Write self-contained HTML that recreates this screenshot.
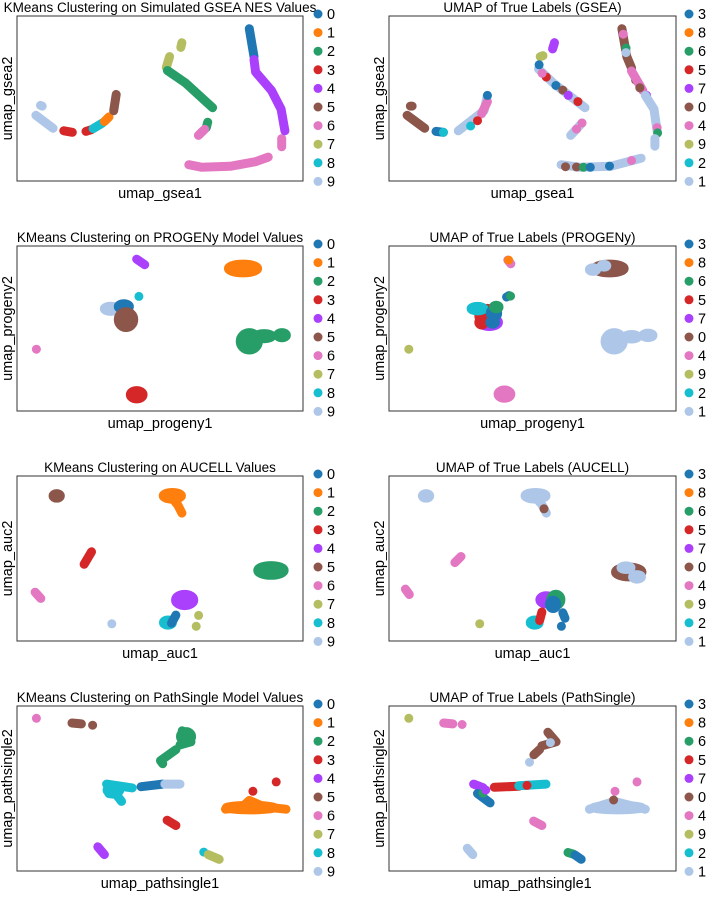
<!DOCTYPE html>
<html><head><meta charset="utf-8">
<style>
html,body{margin:0;padding:0;background:#fff;}
svg text{font-family:"Liberation Sans",Arial,sans-serif;fill:#000;}
</style></head>
<body>
<svg id="chart" width="708" height="892" viewBox="0 0 708 892" xmlns="http://www.w3.org/2000/svg"></svg>
<script>
// Palette (position-based, scanpy default)
const palette = ["#1f77b4","#ff7f0e","#279e68","#d62728","#aa40fc","#8c564b","#e377c2","#b5bd61","#17becf","#aec7e8"];
const leftLegend = ["0","1","2","3","4","5","6","7","8","9"];
const rightLegend = ["3","8","6","5","7","0","4","9","2","1"];
const titles = ["KMeans Clustering on Simulated GSEA NES Values","UMAP of True Labels (GSEA)",
  "KMeans Clustering on PROGENy Model Values","UMAP of True Labels (PROGENy)",
  "KMeans Clustering on AUCELL Values","UMAP of True Labels (AUCELL)",
  "KMeans Clustering on PathSingle Model Values","UMAP of True Labels (PathSingle)"];
const xLabels = ["umap_gsea1","umap_gsea1","umap_progeny1","umap_progeny1","umap_auc1","umap_auc1","umap_pathsingle1","umap_pathsingle1"];
const yLabels = ["umap_gsea2","umap_gsea2","umap_progeny2","umap_progeny2","umap_auc2","umap_auc2","umap_pathsingle2","umap_pathsingle2"];

// Cluster paths: [colorIndex, [[x,y],...]] in UMAP units (0-100)
const gseaKm = [
 [9,[[6.4,45.5],[7,45]]],[9,[[4.7,39],[11,30.5]]],
 [3,[[14.9,28.9],[18,27.9]]],[3,[[23,28.5],[25,29.7]]],
 [8,[[25.6,30.3],[29,34]]],[1,[[29.7,35],[31.4,38]]],
 [5,[[33.1,42],[34,52.7]]],
 [7,[[58,86.5],[57.6,83.4]]],[7,[[53.5,77.4],[52.3,70.3]]],
 [2,[[52.7,68.3],[59.3,60.2],[69.2,44]]],[2,[[67.4,34.5],[66.9,30.9]]],
 [6,[[64,25.9],[66.3,29.9]]],[6,[[60.5,6.7],[65.1,5.1],[75.6,5.7],[84.9,8.7],[89.5,11.7]]],[6,[[94.4,23.8],[94.4,18.4]]],
 [0,[[82.6,95.6],[84.3,77.4]]],
 [4,[[84.3,75.4],[84.9,67.3],[90.7,55.2],[94.2,43],[95.6,28.9]]]
];
const gseaTrue = [
 [5,[[5.6,45],[6.2,45]]],[5,[[4.4,39],[10.8,30.5]]],[0,[[14.9,28.5],[17.6,27.9]]],[8,[[17.6,27.9]]],
 [9,[[23,28.9],[32.4,42],[33.6,52]]],[6,[[31.5,40],[33.6,48]]],[0,[[33.6,52]]],[8,[[27.5,32]]],[3,[[30,35.5]]],
 [9,[[52.2,69.3],[57.5,60.2],[69.1,44]]],[7,[[52.8,77.4],[53.8,78]]],[4,[[58,86.5],[57.3,82.4]]],
 [0,[[52.4,72]]],[3,[[55,64]]],[0,[[58.5,58.5]]],[5,[[61,55.5]]],[4,[[63,52]]],[3,[[66.5,48]]],[6,[[53.5,66.5]]],
 [9,[[63.9,25.9],[68,34]]],[6,[[66,30]]],[6,[[68,34]]],
 [5,[[82.5,95.6],[84.3,77.4],[86,70]]],[6,[[83,92]]],[2,[[84,83]]],[9,[[84,80]]],[5,[[87.5,62]]],
 [6,[[86,68],[90.1,55.2]]],[5,[[89,57]]],[4,[[91.5,52]]],[9,[[91,52],[94.2,43],[95.3,28.9]]],[6,[[95.3,31]]],[2,[[95.5,27.5]]],
 [9,[[94.5,23.8],[94.5,18.8]]],
 [9,[[60.4,6.7],[66.8,5.1],[78.4,5.7],[89.5,11]]],[5,[[62,5.4]]],[5,[[66,5.2]]],[2,[[68.5,5]]],[0,[[71,5]]],[0,[[78,5.8]]],[6,[[86,9.5]]]
];
const progKm = [
 [4,[[41.5,95.3],[44.4,91.7]]],[8,[[42.3,71]]],[6,[[4.9,36.5]]]
];
const progKmBlobs = [
 [1,80.3,89.2,5.5,3.2],[9,32,62.9,2.5,2],[0,36.8,64.3,2.2,2.2],[5,37.6,55.8,3,5.5],
 [2,82.6,41.6,3.5,6],[2,88,45,3,2],[2,94.5,45.6,1.8,2],[3,41.5,6.7,2.5,3]
];
const progTrue = [
 [6,[[41,94.7],[42.1,92.3]]],[1,[[41.3,94.7]]],[0,[[40.6,70.6],[41.5,71.5]]],[2,[[42,71.2]]],[7,[[5,36.5]]]
];
const progTrueBlobs = [
 [5,78,89.2,5.5,3.2],[9,72,88.5,1.5,1.5],[9,76,91,1.2,1.2],
 [4,34.3,54,3.5,3],[3,33.5,58.5,3.2,5],[8,30,63,2.5,1.8],[0,36,60,1.5,3],[2,36.8,64,1.2,1.5],[3,31.5,54,1.2,2],[0,35.5,54,1.2,1.5],
 [9,79.7,41.6,3.5,6],[9,86,44.6,2.5,1.8],[9,92,45.5,2,1.8],[6,39.8,7.1,2.5,3]
];
const aucKm = [
 [1,[[54.2,90],[56.5,85],[58,79.7]]],[3,[[25,54.4],[22.3,46.2]]],[6,[[4.4,28],[6.5,23.9]]],
 [0,[[55.8,13],[54.2,7.7]]],[7,[[64.1,12.8]]],[7,[[63.2,5.7]]],[9,[[32.4,7.3]]],[5,[[12.3,90.9]]]
];
const aucKmBlobs = [
 [1,54.5,91,3.5,2.5],[5,12.3,90.9,1.5,1.8],[2,90.5,42.2,5,3.5],[4,59,22.9,3.5,4],[8,52.9,8.1,1.8,2]
];
const aucTrue = [
 [9,[[51.1,90],[53.5,85],[55,79.7]]],[5,[[54.2,82.5]]],[6,[[24,51.3],[21.8,47.3]]],[6,[[3.8,30],[5.2,26.5]]],
 [3,[[53.4,15],[52.6,9.5]]],[0,[[61,14.5],[61.8,11]]],[0,[[60.5,5.7]]],[7,[[30.8,7.3]]]
];
const aucTrueBlobs = [
 [9,11.3,90.9,1.5,1.8],[9,51.1,91,4,2.5],[5,85,41.2,5,3.5],[9,84,44,2,1.5],[9,88,38,1.8,1.8],
 [4,55,23,2.5,3],[2,58.5,23,2,4],[0,57.5,20,1.5,3],[8,50.8,8.1,1.8,2]
];
const psKm = [
 [6,[[4.9,95.9]]],[5,[[17.9,92.8],[21.3,92.2]]],[5,[[25.4,91.4]]],
 [2,[[58.1,87.7],[61.3,80.5],[57.3,78.5]]],[2,[[55.8,75.4],[50.2,68.2],[51,66.2]]],
 [8,[[30.5,52.9],[39.9,50.4]]],[8,[[36,41.6],[34,46],[31.3,46.7]]],
 [0,[[43.1,51.2],[51,52.9]]],[9,[[51.8,52.9],[57.3,52.9]]],
 [3,[[92.4,54.3]]],[3,[[83.9,48.2]]],[3,[[52.6,29.3],[55.8,25.8]]],
 [1,[[73.9,36.5],[80,38],[82.6,42.2],[88,38],[96,36.5]]],
 [4,[[27.3,11.9],[29.7,6.8]]],[8,[[66,8.4]]],[7,[[67.6,6.8],[71.6,3.7]]]
];
const psKmBlobs = [[2,59.5,84,2.2,3.5],[8,33,49,2.5,2.5],[1,83,37.5,9,1.8]];
const psTrue = [
 [7,[[5,95.9]]],[6,[[17.7,92.8],[21,92.2]]],[6,[[24.4,91.8]]],
 [5,[[55.6,86.7],[58.6,80.5],[53.4,77.9]]],[9,[[56.5,80]]],[5,[[52.6,75.4],[50.5,72]]],[9,[[48.9,67.2]]],
 [4,[[28.6,52.9],[32,50.5]]],[3,[[36.1,50.8],[45,51.5]]],[8,[[45,51.8],[54.9,52.9]]],[3,[[48,52]]],
 [0,[[30,46.7],[34.6,40.6]]],[2,[[32,47]]],[4,[[33,49]]],
 [6,[[88,54.3]]],[6,[[80,48.2]]],[6,[[50.4,28.7],[53.4,25.8]]],
 [9,[[70.7,36.5],[79.7,41.6],[91,36.5]]],[5,[[79.5,42.5]]],
 [9,[[26.3,10.9],[28.3,6.8]]],[2,[[62.9,8.2],[65,7]]],[0,[[65.5,6.5],[67.7,3.7]]]
];
const psTrueBlobs = [[9,81,37.5,9,1.8]];

const panels = [
 {lines:gseaKm,blobs:[],legend:leftLegend},{lines:gseaTrue,blobs:[],legend:rightLegend},
 {lines:progKm,blobs:progKmBlobs,legend:leftLegend},{lines:progTrue,blobs:progTrueBlobs,legend:rightLegend},
 {lines:aucKm,blobs:aucKmBlobs,legend:leftLegend},{lines:aucTrue,blobs:aucTrueBlobs,legend:rightLegend},
 {lines:psKm,blobs:psKmBlobs,legend:leftLegend},{lines:psTrue,blobs:psTrueBlobs,legend:rightLegend}
];

const NS="http://www.w3.org/2000/svg";
const svg=document.getElementById('chart');
function mk(tag,attrs,parent){const e=document.createElementNS(NS,tag);for(const k in attrs)e.setAttribute(k,attrs[k]);(parent||svg).appendChild(e);return e;}

panels.forEach((p,i)=>{
  const col=i%2,row=Math.floor(i/2);
  const L=col?389:17,R=col?676:303,T=16+row*230,B=T+165;
  const sx=v=>L+6+(v/100)*(R-L-12);
  const sy=v=>B-6-(v/100)*(B-T-12);
  const g=mk('g',{});
  
  
  const t=mk('text',{x:(L+R)/2,y:T-4,'text-anchor':'middle','font-size':'13.5'},g);
  t.textContent=titles[i];
  
  
  const pts=mk('g',{},g);
  
  
  p.blobs.forEach(b=>{
    const e=mk('ellipse',{cx:sx(b[1]),cy:sy(b[2]),rx:(b[3]/100)*(R-L-12),ry:(b[4]/100)*(B-T-12),fill:palette[b[0]],stroke:palette[b[0]],'stroke-width':8},pts);
    
    
  });
  p.lines.forEach(c=>{
    const d=c[1].map((q,k)=>(k?'L':'M')+sx(q[0]).toFixed(1)+' '+sy(q[1]).toFixed(1)).join(' ')+(c[1].length===1?' l0.01 0':'');
    const e=mk('path',{d:d,fill:'none',stroke:palette[c[0]],'stroke-width':9,'stroke-linecap':'round','stroke-linejoin':'round'},pts);
    
    
  });
  const box=mk('rect',{x:L,y:T,width:R-L,height:B-T,fill:'none',stroke:'#333','stroke-width':1},g);
  
  
  const xl=mk('text',{x:(L+R)/2,y:B+17,'text-anchor':'middle','font-size':'14.5'},g);
  xl.textContent=xLabels[i];
  
  
  const yx=L-5,yy=(T+B)/2;
  const yl=mk('text',{x:yx,y:yy,'text-anchor':'middle','font-size':'14.5',transform:`rotate(-90 ${yx} ${yy})`},g);
  yl.textContent=yLabels[i];
  
  
  const lg=mk('g',{},g);
  
  
  const lx=col?689:318;
  p.legend.forEach((lab,k)=>{
    const y=T-2+k*18.6;
    const c=mk('circle',{cx:lx,cy:y,r:4.5,fill:palette[k]},lg);
    
    
    const tx=mk('text',{x:lx+9,y:y+5,'font-size':'14.5'},lg);
    tx.textContent=lab;
    
    
  });
});
</script>
</body></html>
